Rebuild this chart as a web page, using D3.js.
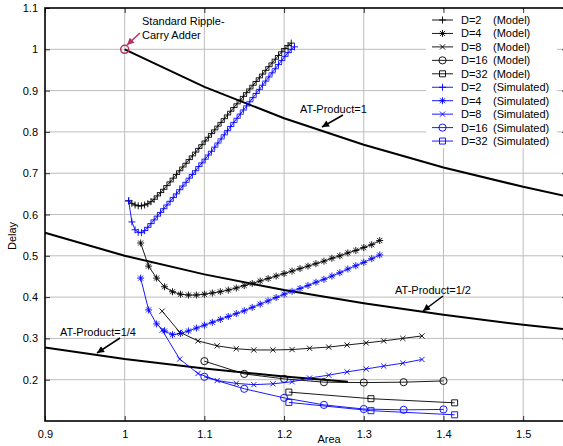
<!DOCTYPE html>
<html>
<head>
<meta charset="utf-8">
<script src="https://cdn.jsdelivr.net/npm/d3@7"></script>
<style>
  body { margin: 0; background: #fff; }
  text { font-family: "Liberation Sans", Arial, sans-serif; }
</style>
</head>
<body>
<div id="chart"></div>
<script>

// D=2 curves (model and simulated share the area points)
const d2Area = [1.005,1.009,1.013,1.017,1.021,1.025,1.029,1.033,1.037,1.041,1.045,1.049,1.053,1.057,1.061,1.065,1.069,1.073,1.077,1.081,1.085,1.089,1.093,1.097,1.101,1.105,1.109,1.113,1.117,1.121,1.125,1.129,1.133,1.137,1.141,1.145,1.149,1.153,1.157,1.161,1.165,1.169,1.173,1.177,1.181,1.185,1.189,1.193,1.197,1.201,1.205,1.209];
const d2Model = [0.633,0.627,0.623,0.621,0.621,0.623,0.626,0.631,0.637,0.645,0.653,0.661,0.670,0.679,0.688,0.697,0.706,0.715,0.724,0.733,0.742,0.751,0.760,0.769,0.778,0.787,0.796,0.805,0.814,0.823,0.832,0.841,0.850,0.859,0.868,0.877,0.886,0.895,0.904,0.913,0.922,0.931,0.940,0.949,0.958,0.967,0.976,0.985,0.994,1.002,1.009,1.015];
const d2SimArea = [1.005,1.009,1.013,1.017,1.021,1.025,1.029,1.033,1.037,1.041,1.045,1.049,1.053,1.057,1.061,1.065,1.069,1.073,1.077,1.081,1.085,1.089,1.093,1.097,1.101,1.105,1.109,1.113,1.117,1.121,1.125,1.129,1.133,1.137,1.141,1.145,1.149,1.153,1.157,1.161,1.165,1.169,1.173,1.177,1.181,1.185,1.189,1.193,1.197,1.201,1.205,1.209,1.213];
const d2Sim = [0.633,0.582,0.563,0.557,0.556,0.561,0.569,0.578,0.587,0.596,0.605,0.614,0.623,0.632,0.641,0.650,0.660,0.669,0.678,0.688,0.697,0.706,0.716,0.725,0.734,0.744,0.753,0.763,0.773,0.783,0.793,0.803,0.813,0.823,0.833,0.843,0.853,0.863,0.873,0.883,0.893,0.903,0.913,0.923,0.933,0.943,0.953,0.963,0.973,0.983,0.992,1.000,1.006];

// D=4
const d4Area = [1.02,1.03,1.04,1.05,1.06,1.07,1.08,1.09,1.10,1.11,1.12,1.13,1.14,1.15,1.16,1.17,1.18,1.19,1.20,1.21,1.22,1.23,1.24,1.25,1.26,1.27,1.28,1.29,1.30,1.31,1.32];
const d4Model = [0.531,0.475,0.446,0.425,0.413,0.407,0.405,0.405,0.407,0.410,0.413,0.417,0.422,0.428,0.433,0.439,0.445,0.451,0.457,0.463,0.469,0.475,0.481,0.487,0.494,0.500,0.507,0.513,0.520,0.527,0.537];
const d4Sim = [0.446,0.369,0.335,0.318,0.309,0.312,0.318,0.325,0.332,0.339,0.346,0.353,0.360,0.367,0.375,0.383,0.391,0.399,0.407,0.414,0.421,0.428,0.436,0.443,0.451,0.459,0.468,0.476,0.484,0.493,0.502];

// D=8
const d8Area = [1.047,1.069,1.092,1.116,1.140,1.162,1.186,1.210,1.232,1.256,1.279,1.303,1.325,1.349,1.373];
const d8Model = [0.366,0.315,0.294,0.282,0.275,0.272,0.272,0.273,0.276,0.279,0.284,0.289,0.294,0.300,0.306];
const d8Sim = [0.320,0.250,0.215,0.198,0.191,0.188,0.190,0.195,0.204,0.211,0.219,0.226,0.233,0.240,0.249];

// D=16
const d16Area = [1.10,1.15,1.20,1.25,1.30,1.35,1.40];
const d16Model = [0.245,0.214,0.202,0.194,0.193,0.194,0.197];
const d16Sim = [0.207,0.178,0.156,0.139,0.129,0.127,0.128];

// D=32
const d32Area = [1.206,1.309,1.414];
const d32Model = [0.170,0.154,0.144];
const d32Sim = [0.145,0.125,0.115];

// constant area-time product curves
const at1Area = [1.0,1.1,1.2,1.3,1.4,1.5,1.6];
const at1Delay = [1.0,0.909,0.833,0.769,0.714,0.667,0.625];
const atHalfArea = [0.9,1.0,1.1,1.2,1.3,1.4,1.5,1.6];
const atHalfDelay = [0.556,0.5,0.455,0.417,0.385,0.357,0.333,0.3125];
const atQuarterArea = [0.9,1.0,1.1,1.2,1.28];
const atQuarterDelay = [0.278,0.25,0.227,0.208,0.195];

const xTicks = [0.9,1.0,1.1,1.2,1.3,1.4,1.5];
const yTicks = [0.2,0.3,0.4,0.5,0.6,0.7,0.8,0.9,1.0,1.1];
const legendNames = ["D=2","D=4","D=8","D=16","D=32"];

let width = 563, height = 446;
let margin = {left: 45, top: 8, right: 567, bottom: 421};

let svg = d3.select("#chart").append("svg")
    .attr("width", width)
    .attr("height", height);

let x = d3.scaleLinear().domain([0.9, 1.555]).range([margin.left, margin.right]);
let y = d3.scaleLinear().domain([0.1, 1.1]).range([margin.bottom, margin.top]);

let blue = "#0000ff";
let crimson = "#b3325f";

// grid
let grid = svg.append("g");
xTicks.slice(1).forEach(v => {
    grid.append("line")
        .attr("x1", x(v)).attr("x2", x(v))
        .attr("y1", y(0.1)).attr("y2", y(1.1))
        .attr("stroke", "#bdbdbd").attr("stroke-width", 1);
});
yTicks.slice(0, -1).forEach(v => {
    grid.append("line")
        .attr("x1", x(0.9)).attr("x2", x(1.555))
        .attr("y1", y(v)).attr("y2", y(v))
        .attr("stroke", "#bdbdbd").attr("stroke-width", 1);
});

// marker shapes
let shapes = {
    plus: s => `M${-s},0H${s}M0,${-s}V${s}`,
    cross: s => `M${-s},${-s}L${s},${s}M${-s},${s}L${s},${-s}`,
    star: s => { let d = s * 0.72; return `M${-s},0H${s}M0,${-s}V${s}M${-d},${-d}L${d},${d}M${-d},${d}L${d},${-d}`; },
    circle: s => `M${s},0A${s},${s} 0 1,1 ${-s},0A${s},${s} 0 1,1 ${s},0`,
    square: s => `M${-s},${-s}H${s}V${s}H${-s}Z`
};

let line = d3.line().x(d => x(d[0])).y(d => y(d[1]));

// AT-product curves
[[at1Area, at1Delay], [atHalfArea, atHalfDelay], [atQuarterArea, atQuarterDelay]].forEach(c => {
    svg.append("path")
        .datum(c[0].map((a, i) => [a, c[1][i]]))
        .attr("d", line)
        .attr("fill", "none")
        .attr("stroke", "black")
        .attr("stroke-width", 2);
});

let series = [
    {area: d2Area, delay: d2Model, color: "black", shape: "plus", size: 3.5},
    {area: d4Area, delay: d4Model, color: "black", shape: "star", size: 3.5},
    {area: d8Area, delay: d8Model, color: "black", shape: "cross", size: 2.6},
    {area: d16Area, delay: d16Model, color: "black", shape: "circle", size: 3.6},
    {area: d32Area, delay: d32Model, color: "black", shape: "square", size: 3},
    {area: d2SimArea, delay: d2Sim, color: blue, shape: "plus", size: 3.5},
    {area: d4Area, delay: d4Sim, color: blue, shape: "star", size: 3.5},
    {area: d8Area, delay: d8Sim, color: blue, shape: "cross", size: 2.6},
    {area: d16Area, delay: d16Sim, color: blue, shape: "circle", size: 3.6},
    {area: d32Area, delay: d32Sim, color: blue, shape: "square", size: 3}
];

series.forEach(s => {
    let pts = s.area.map((a, i) => [a, s.delay[i]]);
    let g = svg.append("g");
    g.append("path")
        .datum(pts)
        .attr("d", line)
        .attr("fill", "none")
        .attr("stroke", s.color)
        .attr("stroke-width", 0.9);
    g.selectAll(".m")
        .data(pts)
        .enter()
        .append("path")
        .attr("transform", d => "translate(" + x(d[0]) + "," + y(d[1]) + ")")
        .attr("d", shapes[s.shape](s.size))
        .attr("fill", "none")
        .attr("stroke", s.color)
        .attr("stroke-width", 0.9);
});

// legend
let legend = svg.append("g");
legend.append("rect")
    .attr("x", 426).attr("y", 10)
    .attr("width", 131).attr("height", 138)
    .attr("fill", "white");
series.forEach((s, i) => {
    let ly = 20 + i * 13.45;
    legend.append("line")
        .attr("x1", 432).attr("x2", 453)
        .attr("y1", ly).attr("y2", ly)
        .attr("stroke", s.color).attr("stroke-width", 0.9);
    legend.append("path")
        .attr("transform", "translate(442.5," + ly + ")")
        .attr("d", shapes[s.shape](s.size))
        .attr("fill", "none")
        .attr("stroke", s.color)
        .attr("stroke-width", 0.9);
    legend.append("text")
        .attr("x", 461).attr("y", ly + 4)
        .attr("font-size", "11px")
        .text(legendNames[i % 5]);
    legend.append("text")
        .attr("x", 493).attr("y", ly + 4)
        .attr("font-size", "11px")
        .text(i < 5 ? "(Model)" : "(Simulated)");
});

// axes
let xAxisCall = d3.axisBottom(x).tickValues(xTicks).tickFormat(d3.format("")).tickSize(-5).tickPadding(9);
let xAxisGroup = svg.append("g")
    .attr("transform", "translate(0," + margin.bottom + ")")
    .call(xAxisCall);
let yAxisCall = d3.axisLeft(y).tickValues(yTicks).tickFormat(d3.format("")).tickSize(-5).tickPadding(7);
let yAxisGroup = svg.append("g")
    .attr("transform", "translate(" + margin.left + ",0)")
    .call(yAxisCall);
svg.append("g")
    .attr("transform", "translate(0," + margin.top + ")")
    .call(d3.axisTop(x).tickValues(xTicks).tickFormat("").tickSize(-5));
svg.append("g")
    .attr("transform", "translate(" + margin.right + ",0)")
    .call(d3.axisRight(y).tickValues(yTicks).tickFormat("").tickSize(-5));

svg.selectAll(".domain").remove();
svg.selectAll(".tick line").attr("stroke", "black").attr("stroke-width", 0.8);
[xAxisGroup, yAxisGroup].forEach(g => g.selectAll("text")
    .attr("font-size", "11px")
    .attr("font-family", "'Liberation Sans', Arial, sans-serif")
    .attr("fill", "black"));

svg.append("rect")
    .attr("x", margin.left).attr("y", margin.top)
    .attr("width", margin.right - margin.left)
    .attr("height", margin.bottom - margin.top)
    .attr("fill", "none")
    .attr("stroke", "black")
    .attr("stroke-width", 1.6);

svg.append("text")
    .attr("x", 329).attr("y", 443)
    .attr("font-size", "11px")
    .attr("text-anchor", "middle")
    .text("Area");

svg.append("text")
    .attr("transform", "translate(16,236) rotate(-90)")
    .attr("font-size", "11px")
    .attr("text-anchor", "middle")
    .text("Delay");

// annotations
let defs = svg.append("defs");
[["arrowBlack", "black"], ["arrowRed", crimson]].forEach(a => {
    defs.append("marker")
        .attr("id", a[0])
        .attr("viewBox", "0 0 10 10")
        .attr("refX", 10).attr("refY", 5)
        .attr("markerWidth", 8).attr("markerHeight", 7)
        .attr("markerUnits", "userSpaceOnUse")
        .attr("orient", "auto")
        .append("path")
        .attr("d", "M0,0L10,5L0,10Z")
        .attr("fill", a[1]);
});

let arrows = [
    {x1: 140, y1: 33, x2: 127, y2: 45, color: crimson, id: "arrowRed"},
    {x1: 343, y1: 115, x2: 322, y2: 127, color: "black", id: "arrowBlack"},
    {x1: 443, y1: 296, x2: 423, y2: 311, color: "black", id: "arrowBlack"},
    {x1: 120, y1: 338, x2: 97, y2: 353, color: "black", id: "arrowBlack"}
];
arrows.forEach(a => {
    svg.append("line")
        .attr("x1", a.x1).attr("y1", a.y1)
        .attr("x2", a.x2).attr("y2", a.y2)
        .attr("stroke", a.color)
        .attr("stroke-width", 1.5)
        .attr("marker-end", "url(#" + a.id + ")");
});

svg.append("circle")
    .attr("cx", x(1)).attr("cy", y(1))
    .attr("r", 4)
    .attr("fill", "none")
    .attr("stroke", crimson)
    .attr("stroke-width", 1.5);

let notes = [
    {x: 142, y: 25, t: "Standard Ripple-"},
    {x: 142, y: 39, t: "Carry Adder"},
    {x: 300, y: 113, t: "AT-Product=1"},
    {x: 395, y: 294, t: "AT-Product=1/2"},
    {x: 60, y: 336, t: "AT-Product=1/4"}
];
notes.forEach(n => {
    svg.append("text")
        .attr("x", n.x).attr("y", n.y)
        .attr("font-size", "11px")
        .text(n.t);
});

</script>
</body>
</html>
